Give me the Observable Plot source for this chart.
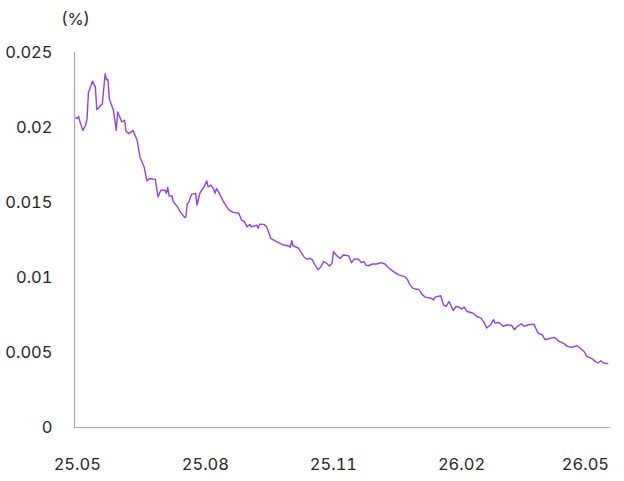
<!DOCTYPE html>
<html>
<head>
<meta charset="utf-8">
<script src="https://cdn.jsdelivr.net/npm/d3@7"></script>
<script src="https://cdn.jsdelivr.net/npm/@observablehq/plot@0.6"></script>
<style>
  html, body { margin: 0; padding: 0; background: #fff; }
  #chart { width: 624px; height: 481px; }
</style>
</head>
<body>
<div id="chart"></div>
<script>
// ---- data ----
const dates = [
  "2025-04-30","2025-05-01","2025-05-02","2025-05-03","2025-05-05","2025-05-07","2025-05-08","2025-05-09",
  "2025-05-12","2025-05-14","2025-05-15","2025-05-19","2025-05-21","2025-05-22","2025-05-23","2025-05-24",
  "2025-05-27","2025-05-29","2025-05-30","2025-06-02","2025-06-04","2025-06-05","2025-06-07","2025-06-10",
  "2025-06-13","2025-06-15","2025-06-18","2025-06-20","2025-06-22","2025-06-26","2025-06-28","2025-06-30",
  "2025-07-03","2025-07-04","2025-07-05","2025-07-06","2025-07-08","2025-07-09","2025-07-12","2025-07-14",
  "2025-07-17","2025-07-18","2025-07-19","2025-07-20","2025-07-22","2025-07-25","2025-07-26","2025-07-28",
  "2025-07-31","2025-08-02","2025-08-03","2025-08-05","2025-08-07","2025-08-08","2025-08-09","2025-08-11",
  "2025-08-14","2025-08-18","2025-08-21","2025-08-25","2025-08-27","2025-08-29","2025-08-31","2025-09-02",
  "2025-09-03","2025-09-07","2025-09-08","2025-09-09","2025-09-12","2025-09-14","2025-09-17","2025-09-21",
  "2025-09-26","2025-09-30","2025-10-01","2025-10-02","2025-10-03","2025-10-07","2025-10-11","2025-10-13",
  "2025-10-15","2025-10-17","2025-10-18","2025-10-21","2025-10-23","2025-10-25","2025-10-27","2025-10-29",
  "2025-10-31","2025-11-01","2025-11-04","2025-11-06","2025-11-08","2025-11-12","2025-11-14","2025-11-16",
  "2025-11-19","2025-11-21","2025-11-23","2025-11-24","2025-11-26","2025-11-29","2025-12-02","2025-12-05",
  "2025-12-08","2025-12-11","2025-12-14","2025-12-18","2025-12-22","2025-12-24","2025-12-26","2025-12-28",
  "2025-12-30","2026-01-01","2026-01-04","2026-01-06","2026-01-10","2026-01-12","2026-01-13","2026-01-17",
  "2026-01-19","2026-01-21","2026-01-23","2026-01-26","2026-01-28","2026-01-30","2026-02-01","2026-02-03",
  "2026-02-05","2026-02-09","2026-02-12","2026-02-15","2026-02-17","2026-02-19","2026-02-22","2026-02-24",
  "2026-02-25","2026-02-28","2026-03-03","2026-03-06","2026-03-09","2026-03-11","2026-03-13","2026-03-16",
  "2026-03-18","2026-03-21","2026-03-25","2026-03-27","2026-03-28","2026-03-31","2026-04-02","2026-04-06",
  "2026-04-09","2026-04-12","2026-04-15","2026-04-18","2026-04-21","2026-04-25","2026-04-27","2026-04-30",
  "2026-05-02","2026-05-06","2026-05-08","2026-05-10","2026-05-12","2026-05-14","2026-05-17"
];
const values = [
  0.02066,0.02059,0.02074,0.02037,0.01981,0.02015,0.02059,0.02232,
  0.02309,0.02269,0.02119,0.02159,0.02358,0.02318,0.02320,0.02192,
  0.02114,0.01981,0.02103,0.02037,0.02048,0.01975,0.01959,0.01981,
  0.01915,0.01804,0.01737,0.01644,0.01660,0.01654,0.01538,0.01582,
  0.01582,0.01561,0.01600,0.01543,0.01543,0.01505,0.01471,0.01438,
  0.01401,0.01405,0.01494,0.01498,0.01554,0.01561,0.01483,0.01561,
  0.01604,0.01644,0.01604,0.01616,0.01587,0.01561,0.01594,0.01561,
  0.01505,0.01449,0.01434,0.01428,0.01383,0.01372,0.01338,0.01354,
  0.01338,0.01348,0.01328,0.01356,0.01354,0.01338,0.01261,0.01239,
  0.01217,0.01210,0.01201,0.01245,0.01212,0.01195,0.01135,0.01122,
  0.01128,0.01117,0.01095,0.01051,0.01072,0.01106,0.01095,0.01077,
  0.01095,0.01172,0.01139,0.01128,0.01150,0.01144,0.01099,0.01124,
  0.01122,0.01099,0.01106,0.01084,0.01077,0.01090,0.01090,0.01099,
  0.01090,0.01062,0.01039,0.01017,0.01006,0.00989,0.00951,0.00929,
  0.00922,0.00922,0.00884,0.00869,0.00862,0.00851,0.00869,0.00878,
  0.00818,0.00807,0.00840,0.00780,0.00807,0.00803,0.00789,0.00803,
  0.00773,0.00763,0.00740,0.00729,0.00703,0.00663,0.00685,0.00720,
  0.00696,0.00700,0.00674,0.00685,0.00680,0.00652,0.00674,0.00691,
  0.00674,0.00685,0.00689,0.00647,0.00630,0.00618,0.00585,0.00596,
  0.00600,0.00574,0.00563,0.00541,0.00534,0.00545,0.00530,0.00507,
  0.00474,0.00457,0.00441,0.00430,0.00445,0.00430,0.00426
];
const xTickDates = ["2025-05-01","2025-08-01","2025-11-01","2026-02-01","2026-05-01"];
const xTickLabels = ["25.05","25.08","25.11","26.02","26.05"];
const yTicks = [0, 0.005, 0.01, 0.015, 0.02, 0.025];
const yTickLabels = ["0","0.005","0.01","0.015","0.02","0.025"];
const xDomain = ["2025-04-29","2026-05-19"];
const unitLabel = "(%)";

// ---- build ----
const parse = d3.utcParse("%Y-%m-%d");
const data = dates.map((d, i) => ({date: parse(d), value: values[i]}));
const xTicks = xTickDates.map(parse);
const xDom = xDomain.map(parse);
const font = "Inter, 'Noto Sans', sans-serif";

const chart = Plot.plot({
  width: 624,
  height: 481,
  marginLeft: 74,
  marginRight: 14,
  marginTop: 52,
  marginBottom: 54,
  style: {fontFamily: font, fontSize: "16.5px", fontWeight: 400, color: "#222", background: "#fff"},
  x: {type: "utc", domain: xDom},
  y: {domain: [0, 0.025]},
  marks: [
    Plot.axisX({
      ticks: xTicks, tickSize: 0, tickPadding: 31,
      tickFormat: d => xTickLabels[xTicks.findIndex(t => +t === +d)],
      label: null, fill: "#262626"
    }),
    Plot.axisY({
      ticks: yTicks, tickSize: 0, tickPadding: 22,
      tickFormat: d => yTickLabels[yTicks.indexOf(d)],
      label: null, fill: "#262626"
    }),
    Plot.ruleY([0], {stroke: "#a6a6a6", strokeWidth: 1.2}),
    Plot.ruleX([xDom[0]], {y1: 0, y2: 0.025, stroke: "#a6a6a6", strokeWidth: 1.2}),
    Plot.line(data, {x: "date", y: "value", stroke: "#9340e0", strokeWidth: 1.4}),
    Plot.text([unitLabel], {frameAnchor: "top-left", textAnchor: "middle", lineAnchor: "middle", dx: 1, dy: -33, fill: "#262626", fontSize: 16.5})
  ]
});
document.getElementById("chart").appendChild(chart);
</script>
</body>
</html>
